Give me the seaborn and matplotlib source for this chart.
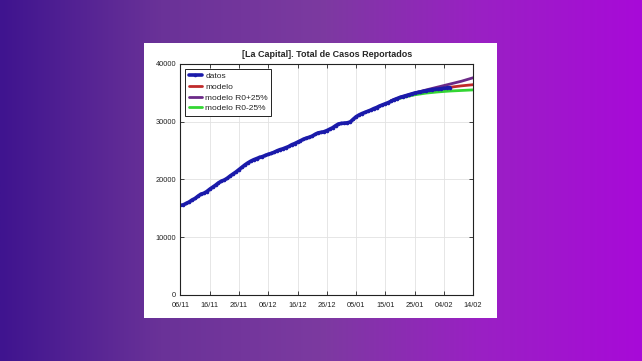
import matplotlib
matplotlib.use("Agg")
import matplotlib.pyplot as plt
import matplotlib.dates as mdates
from matplotlib.colors import LinearSegmentedColormap
from matplotlib.patches import Rectangle
import numpy as np
import pandas as pd
import seaborn as sns

# reported cases, one value per day from 06/11/2020 to 06/02/2021
datos_start = "2020-11-06"
datos = [
    15500, 15600, 15850, 16100, 16450, 16700, 17100, 17450, 17600, 17900,
    18300, 18650, 19000, 19400, 19700, 19900, 20200, 20600, 20950, 21300,
    21700, 22100, 22500, 22850, 23150,
    23400, 23600, 23800, 23950, 24150, 24350, 24500, 24700, 24950, 25150,
    25300, 25500, 25700, 26000, 26200, 26450, 26700, 26950, 27150, 27300,
    27500, 27800, 28050, 28150, 28250, 28450, 28700, 28950, 29300, 29600,
    29700,
    29750, 29800, 29950, 30400, 30850, 31150, 31400, 31600, 31800, 32000,
    32250, 32450, 32700, 32900, 33100, 33300, 33550, 33800, 34000, 34200,
    34350, 34500, 34650, 34800, 34950, 35050, 35150, 35250, 35350, 35450,
    35550,
    35600, 35650, 35700, 35780, 35850, 35900,
]

# model projections, every 4 days from 17/01 to 14/02
modelo_fechas = ["2021-01-17", "2021-01-21", "2021-01-25", "2021-01-29",
                 "2021-02-02", "2021-02-06", "2021-02-10", "2021-02-14"]
modelo = [33600, 34300, 34850, 35300, 35650, 35950, 36200, 36400]
modelo_mas = [33650, 34350, 34950, 35500, 36000, 36500, 37000, 37600]
modelo_menos = [33550, 34200, 34650, 34950, 35150, 35300, 35400, 35500]

x_ticks = pd.date_range("2020-11-06", "2021-02-14", freq="10D")

sns.set_style("whitegrid")
plt.rcParams["font.family"] = ["Liberation Sans", "DejaVu Sans"]

fig = plt.figure(figsize=(6.42, 3.61), dpi=100)

# purple gradient background
bg = fig.add_axes([0, 0, 1, 1])
cmap = LinearSegmentedColormap.from_list(
    "bg", ["#3f148f", "#6a3298", "#7c3aa0", "#9a20c4", "#a80ad8"])
bg.imshow(np.linspace(0, 1, 256)[None, :], aspect="auto", cmap=cmap,
          extent=[0, 1, 0, 1])
bg.set_axis_off()
bg.add_patch(Rectangle((0.224, 0.119), 0.550, 0.762, facecolor="white",
                       edgecolor="none", transform=bg.transAxes))

ax = fig.add_axes([0.281, 0.183, 0.456, 0.640])

df_datos = pd.DataFrame({
    "fecha": pd.date_range(datos_start, periods=len(datos), freq="D"),
    "casos": datos,
})
df_mod = pd.DataFrame({
    "fecha": pd.to_datetime(modelo_fechas),
    "modelo": modelo,
    "modelo R0+25%": modelo_mas,
    "modelo R0-25%": modelo_menos,
})

sns.lineplot(data=df_mod, x="fecha", y="modelo R0+25%", ax=ax,
             color="#6b2a88", lw=2, label="modelo R0+25%")
sns.lineplot(data=df_mod, x="fecha", y="modelo", ax=ax,
             color="#c02a2a", lw=2, label="modelo")
sns.lineplot(data=df_mod, x="fecha", y="modelo R0-25%", ax=ax,
             color="#33d633", lw=2, label="modelo R0-25%")
sns.lineplot(data=df_datos, x="fecha", y="casos", ax=ax,
             color="#1a1aaa", lw=2.6, marker="o", markersize=2.6,
             markeredgewidth=0, label="datos")

ax.set_xlim(pd.Timestamp("2020-11-06"), pd.Timestamp("2021-02-14"))
ax.set_ylim(0, 40000)
ax.set_xticks(x_ticks)
ax.xaxis.set_major_formatter(mdates.DateFormatter("%d/%m"))
ax.set_yticks([0, 10000, 20000, 30000, 40000])
ax.set_xlabel("")
ax.set_ylabel("")
ax.grid(True, color="#e2e2e2", lw=0.6)
for s in ax.spines.values():
    s.set_color("#222222")
    s.set_linewidth(0.8)
ax.tick_params(axis="both", direction="in", length=3, width=0.6,
               labelsize=5.3, colors="#222222", top=True, right=True,
               bottom=True, left=True)
ax.tick_params(axis="x", pad=5)
ax.tick_params(axis="y", pad=3)
ax.set_title("[La Capital]. Total de Casos Reportados", fontsize=6.5,
             fontweight="bold", pad=5)

handles, labels = ax.get_legend_handles_labels()
order = [labels.index(n) for n in ["datos", "modelo", "modelo R0+25%", "modelo R0-25%"]]
leg = ax.legend([handles[i] for i in order], [labels[i] for i in order],
                loc="upper left", fontsize=6, frameon=True, fancybox=False,
                edgecolor="#222222", framealpha=1, handlelength=1.6,
                borderpad=0.4, labelspacing=0.35, handletextpad=0.4,
                borderaxespad=0.6)
leg.get_frame().set_linewidth(0.7)

fig.savefig("out.png", dpi=100)
